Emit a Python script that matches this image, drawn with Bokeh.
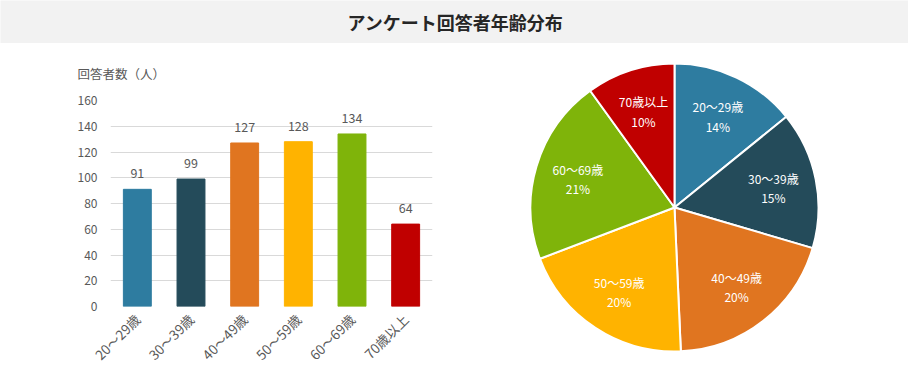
import numpy as np
import pandas as pd
from math import pi
from bokeh.plotting import figure
from bokeh.layouts import column, row
from bokeh.models import ColumnDataSource, Range1d, FactorRange
from bokeh.core.properties import value
from bokeh.embed import file_html
from bokeh.resources import INLINE

title_text = "アンケート回答者年齢分布"
y_axis_title = "回答者数（人）"
categories = ["20～29歳", "30～39歳", "40～49歳", "50～59歳", "60～69歳", "70歳以上"]
counts = [91, 99, 127, 128, 134, 64]
colors = ["#2E7CA0", "#244B5A", "#E07520", "#FFB300", "#7FB40A", "#C00000"]
y_ticks = [0, 20, 40, 60, 80, 100, 120, 140, 160]

FONT = "Noto Sans CJK JP"
GRAY = "#595959"

# ---- title band ----
t = figure(width=908, height=43, toolbar_location=None, output_backend="svg",
           x_range=Range1d(0, 1), y_range=Range1d(0, 1),
           x_axis_type=None, y_axis_type=None, min_border=0,
           outline_line_color=None, background_fill_color="#F2F2F2",
           border_fill_color="#F2F2F2")
t.frame_align = False
t.text(x=[0.501], y=[0.5], text=[title_text], text_align="center",
       text_baseline="middle", text_font=value(FONT), text_font_size="18px",
       text_font_style="bold", text_color="#262626")

# ---- bar chart ----
df = pd.DataFrame({"cat": categories, "count": counts, "color": colors})
df["label"] = df["count"].astype(str)
src = ColumnDataSource(df)

p = figure(x_range=FactorRange(*categories), y_range=Range1d(0, 160),
           width=478, height=337, toolbar_location=None, output_backend="svg",
           min_border_left=110, min_border_right=46, min_border_top=57,
           min_border_bottom=74, outline_line_color=None,
           title=y_axis_title)
p.frame_align = False
p.title.align = "left"
p.title.offset = -33
p.title.text_font = FONT
p.title.text_font_size = "12.5px"
p.title.text_font_style = "normal"
p.title.text_color = GRAY
p.title.standoff = 36

p.vbar(x="cat", top="count", width=0.52, fill_color="color", line_color="color", source=src)
p.text(x="cat", y="count", text="label", source=src, text_align="center",
       text_baseline="bottom", y_offset=-11, text_font=value(FONT),
       text_font_size="12.5px", text_color=GRAY)

p.xgrid.grid_line_color = None
p.ygrid.grid_line_color = "#D9D9D9"
p.yaxis.ticker = y_ticks
for ax in (p.xaxis, p.yaxis):
    ax.axis_line_color = None
    ax.major_tick_line_color = None
    ax.minor_tick_line_color = None
    ax.major_tick_out = 0
    ax.major_tick_in = 0
    ax.major_label_text_font = FONT
    ax.major_label_text_font_size = "12px"
    ax.major_label_text_color = GRAY
p.yaxis.major_label_standoff = 13
p.xaxis.major_label_standoff = 10
p.xaxis.major_label_text_font_size = "13.5px"
p.xaxis.major_label_orientation = pi / 4

# ---- pie chart ----
R = 144
c = np.array(counts, dtype=float)
frac = c / c.sum()
cum = np.cumsum(frac)
pie = pd.DataFrame({
    "cat": categories,
    "color": colors,
    "start": pi / 2 - 2 * pi * (cum - frac),
    "end": pi / 2 - 2 * pi * cum,
})
mid = pi / 2 - 2 * pi * (cum - frac / 2)
pie["lx"] = 0.7 * R * np.cos(mid)
pie["ly"] = 0.7 * R * np.sin(mid)
pie["label"] = [f"{k}\n{round(f * 100)}%" for k, f in zip(categories, frac)]
psrc = ColumnDataSource(pie)

q = figure(width=430, height=337, x_range=Range1d(-196, 234), y_range=Range1d(-173, 164),
           x_axis_type=None, y_axis_type=None, min_border=0, outline_line_color=None,
           toolbar_location=None, output_backend="svg")
q.frame_align = False
q.grid.visible = False
q.wedge(x=0, y=0, radius=R, start_angle="start", end_angle="end", direction="clock",
        fill_color="color", line_color="white", line_width=2, source=psrc)
q.text(x="lx", y="ly", text="label", source=psrc, text_align="center",
       text_baseline="middle", text_font=value(FONT), text_font_size="12px",
       text_color="white", text_line_height=1.13)

layout = column(t, row(p, q))
open("out.html", "w").write(file_html(layout, INLINE))
